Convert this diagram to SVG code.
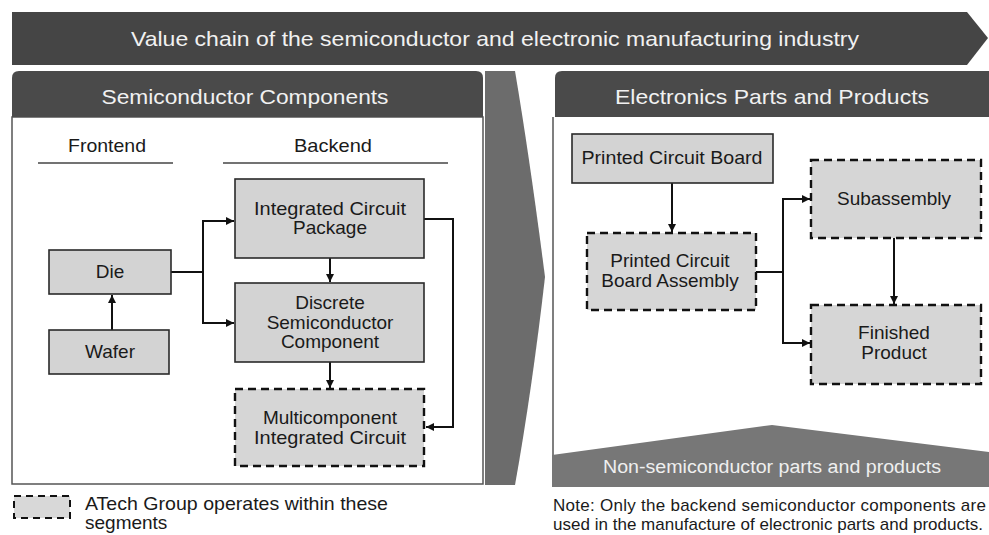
<svg xmlns="http://www.w3.org/2000/svg" width="989" height="535" viewBox="0 0 989 535">
<style>
text{font-family:"Liberation Sans",Arial,sans-serif}
.hd{fill:#f1f1f1;font-size:21px;text-anchor:middle}
.bx{fill:#d3d3d3;stroke:#2a2a2a;stroke-width:1.6}
.dx{fill:#d6d6d6;stroke:#111;stroke-width:2.4;stroke-dasharray:8 5}
.t{fill:#1a1a1a;font-size:19px;text-anchor:middle}
.c{fill:none;stroke:#111;stroke-width:2}
.a{marker-end:url(#ah)}
.n{fill:#1a1a1a;font-size:17px}
.lg{fill:#1a1a1a;font-size:19px}
</style>
<defs>
<marker id="ah" viewBox="0 0 10 10" refX="10" refY="5" markerWidth="4" markerHeight="4" orient="auto" markerUnits="strokeWidth">
<path d="M0,0 L10,5 L0,10 z" fill="#111"/>
</marker>
</defs>
<rect width="989" height="535" fill="#ffffff"/>
<g id="banner">
<polygon points="12,12 967,12 988,38 967,65 12,65" fill="#454545"/>
<text class="hd" x="495" y="46" textLength="728" lengthAdjust="spacingAndGlyphs">Value chain of the semiconductor and electronic manufacturing industry</text>
</g>
<g id="left-panel">
<rect x="12" y="117" width="471" height="367" fill="#ffffff" stroke="#555" stroke-width="1.5"/>
<path d="M12,117 V78 Q12,71 19,71 H476 Q483,71 483,78 V117 Z" fill="#4a4a4a"/>
<text class="hd" x="245" y="104" textLength="287" lengthAdjust="spacingAndGlyphs">Semiconductor Components</text>
</g>
<g id="middle-arrow">
<path d="M485,71 H515 Q530,160 545,277 Q532,390 515,485 H485 Z" fill="#6c6c6c"/>
</g>
<g id="right-panel">
<rect x="553" y="117" width="440" height="370" fill="#ffffff"/>
<line x1="553" y1="117" x2="553" y2="487" stroke="#555" stroke-width="1.5"/>
<path d="M555,117 V78 Q555,71 562,71 H992 V117 Z" fill="#4a4a4a"/>
<text class="hd" x="772" y="104" textLength="314" lengthAdjust="spacingAndGlyphs">Electronics Parts and Products</text>
</g>
<g id="non-semi-band">
<polygon points="552,455 772,425 989,452 989,487 552,487" fill="#777777"/>
<text x="772" y="473" fill="#efefef" font-size="18" text-anchor="middle" textLength="338" lengthAdjust="spacingAndGlyphs">Non-semiconductor parts and products</text>
</g>
<g id="frontend-label">
<text class="t" x="107" y="152" textLength="78" lengthAdjust="spacingAndGlyphs">Frontend</text>
<line x1="38" y1="163" x2="173" y2="163" stroke="#444" stroke-width="1.5"/>
</g>
<g id="backend-label">
<text class="t" x="333" y="152" textLength="78" lengthAdjust="spacingAndGlyphs">Backend</text>
<line x1="223" y1="163" x2="448" y2="163" stroke="#444" stroke-width="1.5"/>
</g>
<g id="connectors">
<path class="c a" d="M171,272 H203 V221 H234"/>
<path class="c a" d="M203,272 V323 H234"/>
<path class="c a" d="M112,330 V295"/>
<path class="c a" d="M330,258 V282"/>
<path class="c a" d="M330,362 V388"/>
<path class="c a" d="M424,219 H453 V427 H426"/>
<path class="c a" d="M672,183 V232"/>
<path class="c a" d="M756,272 H783 V199 H810"/>
<path class="c a" d="M783,272 V343 H810"/>
<path class="c a" d="M894,238 V304"/>
</g>
<g id="icp">
<rect class="bx" x="235" y="179" width="189" height="79"/>
<text class="t" x="330" y="215" textLength="152" lengthAdjust="spacingAndGlyphs">Integrated Circuit</text>
<text class="t" x="330" y="234">Package</text>
</g>
<g id="die">
<rect class="bx" x="49" y="250" width="122" height="44"/>
<text class="t" x="110" y="278">Die</text>
</g>
<g id="wafer">
<rect class="bx" x="49" y="330" width="120" height="44"/>
<text class="t" x="110" y="358">Wafer</text>
</g>
<g id="discrete">
<rect class="bx" x="235" y="283" width="189" height="79"/>
<text class="t" x="330" y="309">Discrete</text>
<text class="t" x="330" y="329">Semiconductor</text>
<text class="t" x="330" y="348">Component</text>
</g>
<g id="multicomponent">
<rect class="dx" x="235" y="389" width="189" height="77"/>
<text class="t" x="330" y="424">Multicomponent</text>
<text class="t" x="330" y="444" textLength="152" lengthAdjust="spacingAndGlyphs">Integrated Circuit</text>
</g>
<g id="pcb">
<rect class="bx" x="572" y="134" width="201" height="49"/>
<text class="t" x="672" y="164" textLength="181" lengthAdjust="spacingAndGlyphs">Printed Circuit Board</text>
</g>
<g id="pcba">
<rect class="dx" x="587" y="233" width="169" height="77"/>
<text class="t" x="670" y="267">Printed Circuit</text>
<text class="t" x="670" y="287">Board Assembly</text>
</g>
<g id="subassembly">
<rect class="dx" x="811" y="160" width="170" height="78"/>
<text class="t" x="894" y="205">Subassembly</text>
</g>
<g id="finished">
<rect class="dx" x="811" y="305" width="170" height="79"/>
<text class="t" x="894" y="339">Finished</text>
<text class="t" x="894" y="359">Product</text>
</g>
<g id="legend">
<rect x="14" y="496" width="56" height="22" fill="#d8d8d8" stroke="#111" stroke-width="2" stroke-dasharray="7 5"/>
<text class="lg" x="85" y="510" textLength="303" lengthAdjust="spacingAndGlyphs">ATech Group operates within these</text>
<text class="lg" x="85" y="529">segments</text>
</g>
<g id="note">
<text class="n" x="553" y="511" textLength="433" lengthAdjust="spacing">Note: Only the backend semiconductor components are</text>
<text class="n" x="553" y="530" textLength="430" lengthAdjust="spacing">used in the manufacture of electronic parts and products.</text>
</g>
</svg>
